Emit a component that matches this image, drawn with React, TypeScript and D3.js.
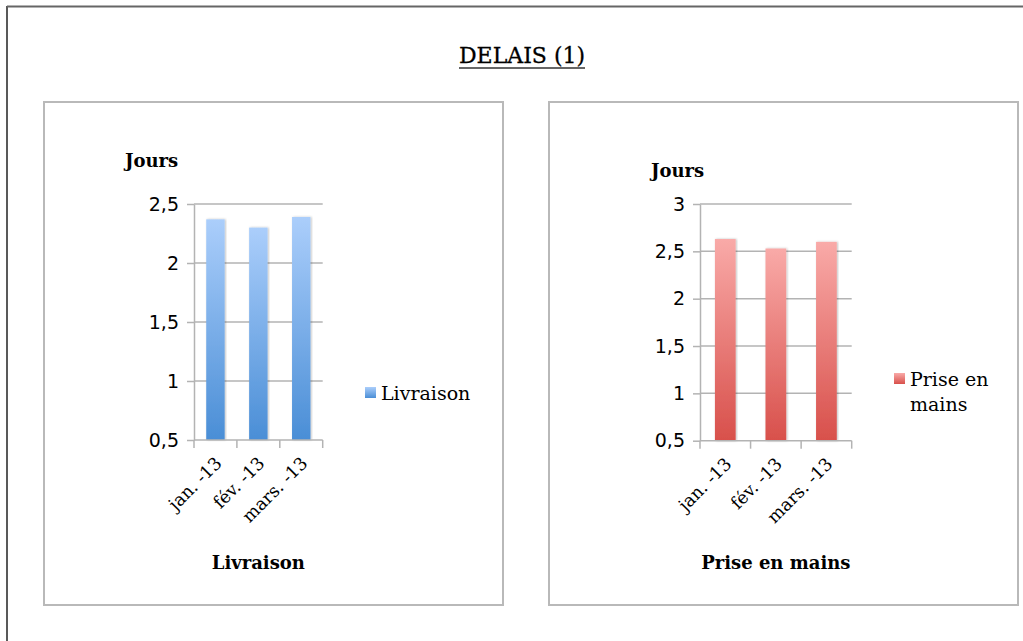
import React, { useEffect, useRef } from "react";
import * as d3 from "d3";

const width = 1023;
const height = 641;

const months = ["jan. -13", "fév. -13", "mars. -13"];
const livraison = [2.37, 2.3, 2.39];
const priseEnMains = [2.63, 2.53, 2.6];
const leftTicks = [0.5, 1, 1.5, 2, 2.5];
const rightTicks = [0.5, 1, 1.5, 2, 2.5, 3];

const serif = "'DejaVu Serif', serif";
const sans = "'DejaVu Sans', sans-serif";

const fmt = (v) => String(v).replace(".", ",");

const App = () => {
  const svgRef = useRef();

  useEffect(() => {
    const svg = d3.select(svgRef.current);
    svg.selectAll("*").remove();

    const defs = svg.append("defs");
    const grad = (id, top, bottom) => {
      const lg = defs
        .append("linearGradient")
        .attr("id", id)
        .attr("x1", 0)
        .attr("y1", 0)
        .attr("x2", 0)
        .attr("y2", 1);
      lg.append("stop").attr("offset", "0%").attr("stop-color", top);
      lg.append("stop").attr("offset", "100%").attr("stop-color", bottom);
    };
    grad("blue", "#abcefb", "#4a8ed6");
    grad("red", "#f9aaa8", "#d8504b");
    const f = defs.append("filter").attr("id", "shadow");
    f.append("feDropShadow")
      .attr("dx", 1)
      .attr("dy", 0)
      .attr("stdDeviation", 1)
      .attr("flood-opacity", 0.25);

    // page frame (left + top)
    svg.append("line")
      .attr("x1", 7).attr("x2", 7).attr("y1", 6).attr("y2", height)
      .attr("stroke", "#222").attr("stroke-width", 1.5);
    svg.append("line")
      .attr("x1", 7).attr("x2", width).attr("y1", 6.5).attr("y2", 6.5)
      .attr("stroke", "#666").attr("stroke-width", 2);

    // title
    svg.append("text")
      .attr("x", 522).attr("y", 63)
      .attr("text-anchor", "middle")
      .style("font-family", serif)
      .style("font-size", "22px")
      .attr("fill", "#000")
      .attr("stroke", "#000")
      .attr("stroke-width", 0.3)
      .text("DELAIS (1)");
    svg.append("line")
      .attr("x1", 459).attr("x2", 585).attr("y1", 68).attr("y2", 68)
      .attr("stroke", "#333").attr("stroke-width", 1.6);

    const panel = (cfg) => {
      const g = svg.append("g");
      g.append("rect")
        .attr("x", cfg.box[0]).attr("y", cfg.box[1])
        .attr("width", cfg.box[2] - cfg.box[0])
        .attr("height", cfg.box[3] - cfg.box[1])
        .attr("fill", "white")
        .attr("stroke", "#b9b9b9").attr("stroke-width", 2);

      const x = d3.scaleBand()
        .domain(months)
        .range([cfg.x0, cfg.x1])
        .paddingInner(cfg.pad)
        .paddingOuter(cfg.pad / 2);
      const y = d3.scaleLinear()
        .domain([0.5, d3.max(cfg.ticks)])
        .range([cfg.yBottom, cfg.yTop]);

      // gridlines
      g.selectAll(".grid")
        .data(cfg.ticks.slice(1))
        .enter()
        .append("line")
        .attr("x1", cfg.x0).attr("x2", cfg.x1)
        .attr("y1", (d) => y(d)).attr("y2", (d) => y(d))
        .attr("stroke", "#b3b3b3").attr("stroke-width", 1.5);

      // bars
      g.selectAll(".bar")
        .data(cfg.values)
        .enter()
        .append("rect")
        .attr("x", (d, i) => x(months[i]))
        .attr("y", (d) => y(d))
        .attr("width", x.bandwidth())
        .attr("height", (d) => y(0.5) - y(d))
        .attr("fill", `url(#${cfg.color})`)
        .attr("filter", "url(#shadow)");

      // y axis
      const yAxis = d3.axisLeft(y)
        .tickValues(cfg.ticks)
        .tickSizeInner(7)
        .tickSizeOuter(0)
        .tickPadding(8)
        .tickFormat(fmt);
      const ya = g.append("g")
        .attr("transform", `translate(${cfg.x0},0)`)
        .call(yAxis);
      ya.selectAll("line, path").attr("stroke", "#b3b3b3").attr("stroke-width", 1.5);
      ya.selectAll("text")
        .style("font-family", sans)
        .style("font-size", "19px")
        .attr("fill", "#000");

      // x axis baseline + boundary ticks
      g.append("line")
        .attr("x1", cfg.x0).attr("x2", cfg.x1)
        .attr("y1", y(0.5)).attr("y2", y(0.5))
        .attr("stroke", "#b3b3b3").attr("stroke-width", 1.5);
      const bounds = months.map((m) => x(m) - (x.step() - x.bandwidth()) / 2).concat([cfg.x1]);
      g.selectAll(".xt")
        .data(bounds)
        .enter()
        .append("line")
        .attr("x1", (d) => d).attr("x2", (d) => d)
        .attr("y1", y(0.5)).attr("y2", y(0.5) + 8)
        .attr("stroke", "#b3b3b3").attr("stroke-width", 1.5);

      // category labels
      g.selectAll(".xl")
        .data(months)
        .enter()
        .append("text")
        .attr("transform", (d) => `translate(${x(d) + x.bandwidth() / 2 + 3},${y(0.5) + 20}) rotate(-45)`)
        .attr("text-anchor", "end")
        .attr("dy", "0.35em")
        .style("font-family", serif)
        .style("font-size", "17.5px")
        .attr("fill", "#000")
        .text((d) => d);

      // "Jours"
      g.append("text")
        .attr("x", cfg.jours[0]).attr("y", cfg.jours[1])
        .style("font-family", serif)
        .style("font-size", "18px")
        .style("font-weight", "bold")
        .attr("fill", "#000")
        .text("Jours");

      // axis title
      g.append("text")
        .attr("x", (cfg.x0 + cfg.x1) / 2).attr("y", 569)
        .attr("text-anchor", "middle")
        .style("font-family", serif)
        .style("font-size", "18px")
        .style("font-weight", "bold")
        .attr("fill", "#000")
        .text(cfg.name);

      // legend
      g.append("rect")
        .attr("x", cfg.legend[0]).attr("y", cfg.legend[1])
        .attr("width", 11).attr("height", 11)
        .attr("fill", `url(#${cfg.color})`);
      const lt = g.append("text")
        .attr("x", cfg.legend[0] + 16).attr("y", cfg.legend[1] + 13)
        .style("font-family", serif)
        .style("font-size", "19px")
        .attr("fill", "#000");
      cfg.legendLines.forEach((line, i) => {
        lt.append("tspan")
          .attr("x", cfg.legend[0] + 16)
          .attr("dy", i === 0 ? 0 : 25)
          .text(line);
      });
    };

    panel({
      box: [44, 102, 503, 605],
      x0: 194, x1: 322.7,
      yTop: 204, yBottom: 440,
      pad: 0.57,
      ticks: leftTicks,
      values: livraison,
      color: "blue",
      jours: [125, 167],
      name: "Livraison",
      legend: [365, 387],
      legendLines: ["Livraison"],
    });

    panel({
      box: [549, 102, 1018, 605],
      x0: 700, x1: 851.7,
      yTop: 204, yBottom: 440.7,
      pad: 0.59,
      ticks: rightTicks,
      values: priseEnMains,
      color: "red",
      jours: [651, 177],
      name: "Prise en mains",
      legend: [894, 373],
      legendLines: ["Prise en", "mains"],
    });
  }, []);

  return (
    <div style={{ position: "absolute", left: 0, top: 0 }}>
      <svg ref={svgRef} width={width} height={height} style={{ display: "block", background: "white" }}></svg>
    </div>
  );
};

export default App;
